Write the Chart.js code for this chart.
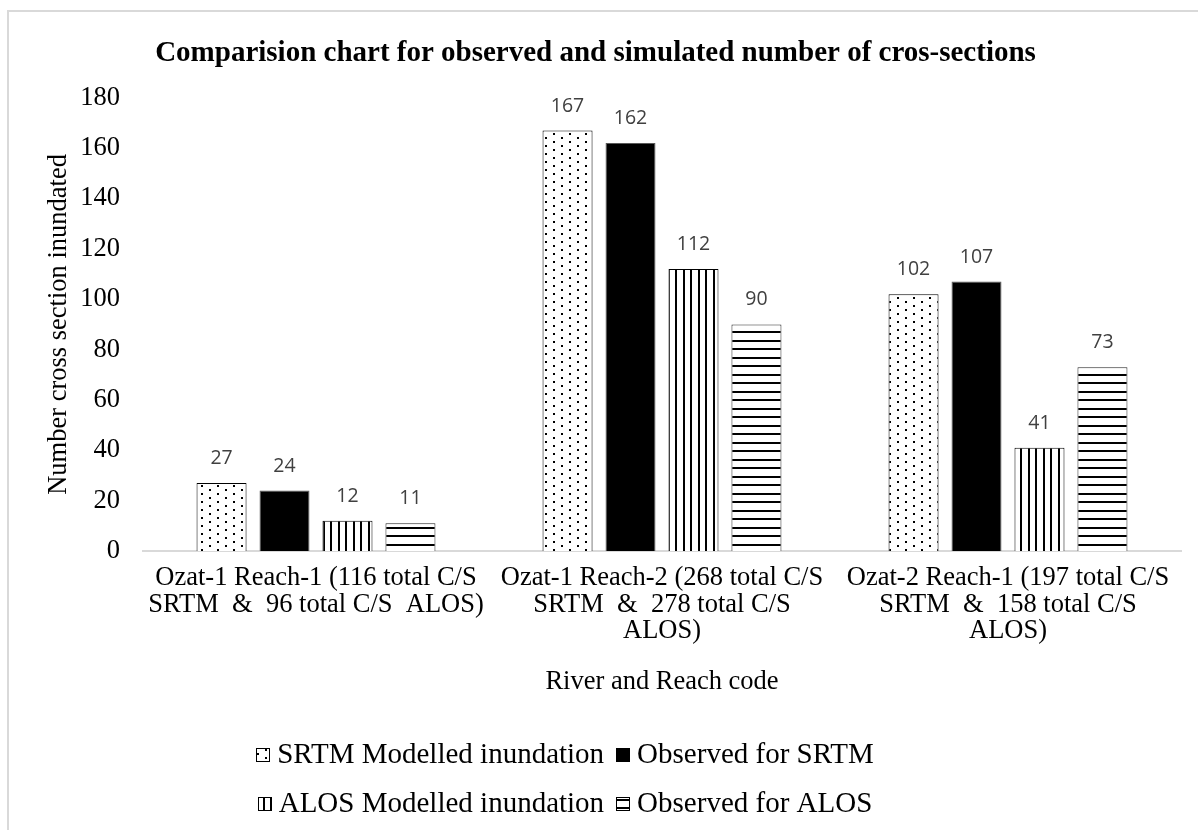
<!DOCTYPE html>
<html>
<head>
<meta charset="utf-8">
<title>Comparision chart for observed and simulated number of cros-sections</title>
<script src="https://cdn.jsdelivr.net/npm/chart.js@4.4.1/dist/chart.umd.min.js"></script>
<style>
  html, body { margin: 0; padding: 0; background: #fff; overflow: hidden; width: 1198px; height: 830px; }
  #frame { position: absolute; left: 7px; top: 10px; width: 1300px; height: 900px; border: 2px solid #d9d9d9; box-sizing: border-box; }
  #chart { position: absolute; left: 0; top: 0; }
</style>
</head>
<body>
<div id="frame"></div>
<canvas id="chart" width="1198" height="830"></canvas>
<script>
// Reaches (category labels, one array entry per line)
const categories = [
  ["Ozat-1 Reach-1 (116 total C/S", "SRTM  &  96 total C/S  ALOS)"],
  ["Ozat-1 Reach-2 (268 total C/S", "SRTM  &  278 total C/S", "ALOS)"],
  ["Ozat-2 Reach-1 (197 total C/S", "SRTM  &  158 total C/S", "ALOS)"]
];

// Number of inundated cross sections per reach
const srtmModelled  = [27, 167, 102];
const srtmObserved  = [24, 162, 107];
const alosModelled  = [12, 112, 41];
const alosObserved  = [11, 90, 73];

const seriesNames = [
  "SRTM Modelled inundation",
  "Observed for SRTM",
  "ALOS Modelled inundation",
  "Observed for ALOS"
];

// Y axis range
const yMin = 0, yMax = 180, yStep = 20;

const SERIF = "'Liberation Serif', 'Times New Roman', serif";

// Fill patterns for the bars
function makePattern(w, h, draw) {
  const c = document.createElement('canvas');
  c.width = w; c.height = h;
  const g = c.getContext('2d');
  g.fillStyle = '#ffffff';
  g.fillRect(0, 0, w, h);
  g.fillStyle = '#000000';
  draw(g);
  return c.getContext('2d').createPattern(c, 'repeat');
}
const dotFill = makePattern(16, 8, g => { g.fillRect(1, 1, 2, 2); g.fillRect(9, 5, 2, 2); });
const vStripeFill = makePattern(15, 4, g => { g.fillRect(0, 0, 2, 4); g.fillRect(8, 0, 2, 4); });
const hStripeFill = makePattern(4, 17, g => { g.fillRect(0, 0, 4, 2); g.fillRect(0, 8, 4, 2); });

// Values printed above each bar
const barValues = {
  id: 'barValues',
  afterDatasetsDraw(chart, args, opts) {
    const ctx = chart.ctx;
    ctx.save();
    ctx.font = opts.font;
    ctx.fillStyle = opts.color;
    ctx.textAlign = 'center';
    ctx.textBaseline = 'alphabetic';
    chart.data.datasets.forEach((ds, i) => {
      chart.getDatasetMeta(i).data.forEach((bar, j) => {
        ctx.fillText(String(ds.data[j]), bar.x, bar.y - opts.offset);
      });
    });
    ctx.restore();
  }
};

// Two-row legend under the axis title
const rowLegend = {
  id: 'rowLegend',
  afterDraw(chart, args, opts) {
    const ctx = chart.ctx;
    const xs = chart.scales.x;
    ctx.save();
    ctx.font = opts.size + 'px ' + opts.family;
    ctx.textBaseline = 'middle';
    ctx.textAlign = 'left';
    opts.rows.forEach((row, r) => {
      const items = row.map(i => chart.data.datasets[i]);
      const widths = items.map(d => opts.box + opts.gap + ctx.measureText(d.label).width);
      const total = widths.reduce((a, b) => a + b, 0) + opts.itemGap * (items.length - 1);
      let cx = opts.centerX - total / 2;
      const cy = xs.bottom + opts.top + r * opts.rowHeight;
      items.forEach((d, k) => {
        const bx = Math.round(cx) + 0.5, by = Math.round(cy - opts.box / 2) + 0.5;
        ctx.fillStyle = d.backgroundColor;
        ctx.fillRect(bx, by, opts.box, opts.box);
        ctx.strokeStyle = '#000';
        ctx.lineWidth = 1;
        ctx.strokeRect(bx, by, opts.box, opts.box);
        ctx.fillStyle = opts.color;
        ctx.fillText(d.label, cx + opts.box + opts.gap, cy + 1);
        cx += widths[k] + opts.itemGap;
      });
    });
    ctx.restore();
  }
};

const fills = [dotFill, '#000000', vStripeFill, hStripeFill];
const values = [srtmModelled, srtmObserved, alosModelled, alosObserved];
const borders = ['#000000', '#595959', '#000000', '#262626'];

new Chart(document.getElementById('chart'), {
  type: 'bar',
  data: {
    labels: categories,
    datasets: values.map((v, i) => ({
      label: seriesNames[i],
      data: v,
      backgroundColor: fills[i],
      borderColor: borders[i],
      borderWidth: 1,
      categoryPercentage: 0.728,
      barPercentage: 0.794
    }))
  },
  options: {
    responsive: false,
    animation: false,
    devicePixelRatio: 1,
    layout: { padding: { left: 10, right: 17, top: 0, bottom: 129 } },
    plugins: {
      legend: { display: false },
      tooltip: { enabled: false },
      title: {
        display: true,
        text: 'Comparision chart for observed and simulated number of cros-sections',
        color: '#000',
        font: { family: SERIF, size: 29, weight: 'bold', lineHeight: 1.2 },
        padding: { top: 36, bottom: 27 }
      },
      barValues: { font: "19.5px 'Open Sans', sans-serif", color: '#404040', offset: 19 },
      rowLegend: {
        rows: [[0, 1], [2, 3]],
        family: SERIF, size: 29, color: '#000',
        box: 13, gap: 8, itemGap: 12,
        centerX: 565, top: 53, rowHeight: 49
      }
    },
    scales: {
      x: {
        grid: { display: false, drawTicks: false },
        border: { display: true, color: '#d9d9d9', width: 2 },
        ticks: {
          color: '#000', padding: 14, maxRotation: 0, autoSkip: false,
          font: { family: SERIF, size: 26.5, lineHeight: 1.0 }
        },
        title: {
          display: true, text: 'River and Reach code', color: '#000',
          font: { family: SERIF, size: 26.5, lineHeight: 1.2 },
          padding: { top: 0, bottom: 3 }
        },
        afterFit: s => { s.height = 150; }
      },
      y: {
        min: yMin, max: yMax,
        grid: { display: false, drawTicks: false },
        border: { display: false },
        ticks: {
          stepSize: yStep, color: '#000', padding: 23,
          font: { family: SERIF, size: 26.5 }
        },
        title: {
          display: true, text: 'Number cross section inundated', color: '#000',
          font: { family: SERIF, size: 26.5, lineHeight: 1.2 },
          padding: { top: 33, bottom: 0 }
        },
        afterFit: s => { s.width = 133; }
      }
    }
  },
  plugins: [barValues, rowLegend]
});
</script>
</body>
</html>
